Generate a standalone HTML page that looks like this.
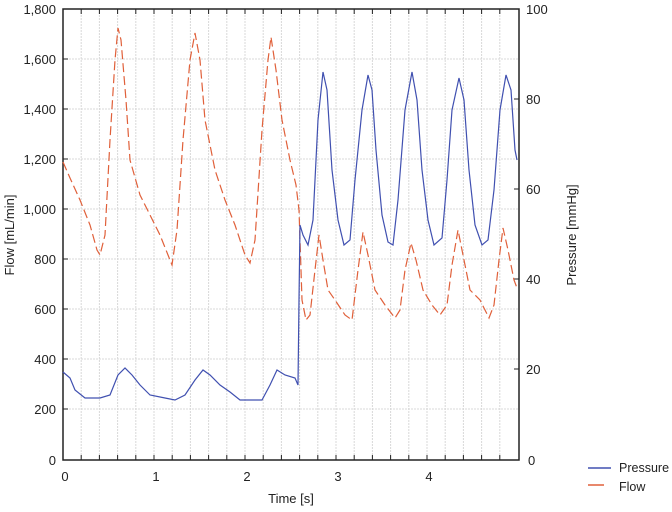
<!DOCTYPE html>
<html><head><meta charset="utf-8"><style>
body{margin:0;background:#fff;}
svg{display:block;font-family:"Liberation Sans",Arial,sans-serif;}
</style></head><body>
<svg width="672" height="512" viewBox="0 0 672 512">
<g stroke="#d8d8d8" stroke-width="1" stroke-dasharray="2,1">
<line x1="81.2" y1="9" x2="81.2" y2="460"/><line x1="99.4" y1="9" x2="99.4" y2="460"/><line x1="117.6" y1="9" x2="117.6" y2="460"/><line x1="135.8" y1="9" x2="135.8" y2="460"/><line x1="154" y1="9" x2="154" y2="460"/>
<line x1="172.2" y1="9" x2="172.2" y2="460"/><line x1="190.4" y1="9" x2="190.4" y2="460"/><line x1="208.6" y1="9" x2="208.6" y2="460"/><line x1="226.8" y1="9" x2="226.8" y2="460"/><line x1="245" y1="9" x2="245" y2="460"/>
<line x1="263.2" y1="9" x2="263.2" y2="460"/><line x1="281.4" y1="9" x2="281.4" y2="460"/><line x1="299.6" y1="9" x2="299.6" y2="460"/><line x1="317.8" y1="9" x2="317.8" y2="460"/><line x1="336" y1="9" x2="336" y2="460"/>
<line x1="354.2" y1="9" x2="354.2" y2="460"/><line x1="372.4" y1="9" x2="372.4" y2="460"/><line x1="390.6" y1="9" x2="390.6" y2="460"/><line x1="408.8" y1="9" x2="408.8" y2="460"/><line x1="427" y1="9" x2="427" y2="460"/>
<line x1="445.2" y1="9" x2="445.2" y2="460"/><line x1="463.4" y1="9" x2="463.4" y2="460"/><line x1="481.6" y1="9" x2="481.6" y2="460"/><line x1="499.8" y1="9" x2="499.8" y2="460"/>
<line x1="63" y1="59" x2="519" y2="59"/><line x1="63" y1="109" x2="519" y2="109"/><line x1="63" y1="159" x2="519" y2="159"/><line x1="63" y1="209" x2="519" y2="209"/><line x1="63" y1="259" x2="519" y2="259"/><line x1="63" y1="309" x2="519" y2="309"/><line x1="63" y1="359" x2="519" y2="359"/><line x1="63" y1="409" x2="519" y2="409"/>
</g>
<g stroke="#222" stroke-width="1">
<path d="M81.2,460v-5M99.4,460v-5M117.6,460v-5M135.8,460v-5M154,460v-5M172.2,460v-5M190.4,460v-5M208.6,460v-5M226.8,460v-5M245,460v-5M263.2,460v-5M281.4,460v-5M299.6,460v-5M317.8,460v-5M336,460v-5M354.2,460v-5M372.4,460v-5M390.6,460v-5M408.8,460v-5M427,460v-5M445.2,460v-5M463.4,460v-5M481.6,460v-5M499.8,460v-5"/>
<path d="M81.2,9v5M99.4,9v5M117.6,9v5M135.8,9v5M154,9v5M172.2,9v5M190.4,9v5M208.6,9v5M226.8,9v5M245,9v5M263.2,9v5M281.4,9v5M299.6,9v5M317.8,9v5M336,9v5M354.2,9v5M372.4,9v5M390.6,9v5M408.8,9v5M427,9v5M445.2,9v5M463.4,9v5M481.6,9v5M499.8,9v5"/>
<path d="M63,59h5M63,109h5M63,159h5M63,209h5M63,259h5M63,309h5M63,359h5M63,409h5"/>
<path d="M519,99h-5M519,189h-5M519,279h-5M519,369h-5"/>
</g>
<rect x="63" y="9" width="456" height="451" fill="none" stroke="#222" stroke-width="1.5"/>
<polyline fill="none" stroke="#e0603a" stroke-width="1.2" stroke-dasharray="9,4" points="63,162 70,178 80,200 90,225 97,250 100,255 105,235 110,140 115,60 118,28 121,40 126,100 130,160 140,195 150,215 160,235 168,255 172,265 177,230 183,140 190,60 195,33 200,60 205,120 215,170 225,200 235,225 245,255 250,263 255,240 262,130 268,60 271,37 276,70 282,120 290,160 296,185 299,210 302,300 306,320 310,315 315,270 319,235 323,260 328,290 335,300 345,315 352,320 358,270 363,232 368,255 375,290 385,305 395,318 400,310 405,270 411,243 416,260 423,290 432,305 440,315 447,305 452,265 458,230 464,260 470,290 480,300 489,318 494,305 499,260 503,228 508,250 514,280 517,288"/>
<polyline fill="none" stroke="#4050b0" stroke-width="1.2" points="63,372 70,378 75,390 85,398 100,398 110,395 118,375 125,368 132,375 140,385 150,395 165,398 175,400 185,395 195,380 203,370 210,375 220,385 230,392 240,400 262,400 270,385 277,370 285,375 295,378 298,385 299,300 300,225 303,235 308,245 313,220 318,120 323,72 327,90 332,170 338,220 344,245 350,240 355,180 362,110 368,75 372,90 376,150 382,215 388,242 393,245 398,200 405,110 412,72 417,100 422,170 428,220 434,245 442,238 447,180 452,110 459,78 464,100 469,170 475,225 482,245 488,240 494,190 500,110 506,75 511,90 515,150 517,160"/>
<g font-size="13" fill="#222" text-anchor="end">
<text x="56" y="14">1,800</text><text x="56" y="64">1,600</text><text x="56" y="114">1,400</text><text x="56" y="164">1,200</text><text x="56" y="214">1,000</text><text x="56" y="264">800</text><text x="56" y="314">600</text><text x="56" y="364">400</text><text x="56" y="414">200</text><text x="56" y="465">0</text>
</g>
<g font-size="13" fill="#222">
<text x="526" y="14">100</text><text x="526" y="104">80</text><text x="526" y="194">60</text><text x="526" y="284">40</text><text x="526" y="374">20</text><text x="528" y="465">0</text>
</g>
<g font-size="13" fill="#222" text-anchor="middle">
<text x="65" y="481">0</text><text x="156" y="481">1</text><text x="247" y="481">2</text><text x="338" y="481">3</text><text x="429" y="481">4</text>
<text x="291" y="503">Time [s]</text>
<text transform="translate(14,235) rotate(-90)">Flow [mL/min]</text>
<text transform="translate(576,235) rotate(-90)">Pressure [mmHg]</text>
</g>
<line x1="588" y1="468" x2="611" y2="468" stroke="#4050b0" stroke-width="1.5"/>
<line x1="588" y1="485" x2="604" y2="485" stroke="#e0603a" stroke-width="1.5"/>
<text x="619" y="472" font-size="12.5" fill="#222">Pressure</text>
<text x="619" y="491" font-size="12.5" fill="#222">Flow</text>
</svg>
</body></html>
